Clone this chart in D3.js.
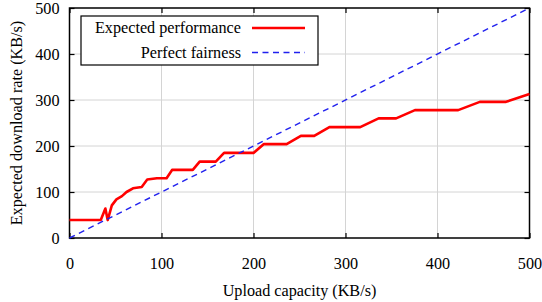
<!DOCTYPE html>
<html lang="en">
<head>
  <meta charset="UTF-8">
  <title>Expected download rate</title>
  <script src="https://d3js.org/d3.v7.min.js"></script>
  <style>
    body { margin: 0; background: #fff; }
    svg { display: block; }
    svg text { font-family: "Liberation Serif", "DejaVu Serif", serif; fill: #000; }
    .grid line { stroke: #d4d4d4; stroke-width: 1; }
  </style>
</head>
<body>
  <script>
    // Expected performance curve (upload KB/s -> expected download KB/s)
    const upload = [0, 34, 39, 41.5, 46, 51, 57, 62, 69, 78.5, 84.5, 95, 105.5, 111.5, 134, 141.5, 159, 168,
      200, 211, 236, 251.5, 266, 282.5, 316, 336, 355, 375.5, 422.5, 446, 474.5, 500];
    const expected = [39, 39, 64, 39, 71, 84, 91, 100, 108, 111, 127, 130, 130, 148, 148, 166, 166, 185,
      185, 204, 204, 222, 222, 241, 241, 260, 260, 278, 278, 296, 296, 313];
    // perfect fairness: download == upload
    const fairX = [0, 500];
    const fairY = [0, 500];
    const xTicks = [0, 100, 200, 300, 400, 500];
    const yTicks = [0, 100, 200, 300, 400, 500];
    const seriesNames = ["Expected performance", "Perfect fairness"];

    const width = 542, height = 302;
    const margin = { top: 8, right: 12.5, bottom: 64, left: 69.5 };
    const fontSize = 16.2;
    const serif = "Liberation Serif, DejaVu Serif, serif";

    const svg = d3.select("body").append("svg")
      .attr("width", width)
      .attr("height", height);

    const x = d3.scaleLinear().domain([0, 500]).range([margin.left, width - margin.right]);
    const y = d3.scaleLinear().domain([0, 500]).range([height - margin.bottom, margin.top]);

    // grid
    const grid = svg.append("g").attr("class", "grid");
    grid.selectAll(".gx")
      .data(xTicks.slice(1, -1))
      .join("line")
      .attr("x1", d => x(d)).attr("x2", d => x(d))
      .attr("y1", y(0)).attr("y2", y(500));
    grid.selectAll(".gy")
      .data(yTicks.slice(1, -1))
      .join("line")
      .attr("x1", x(0)).attr("x2", x(500))
      .attr("y1", d => y(d)).attr("y2", d => y(d));

    // axes, ticks pointing inward on all sides
    const fmt = d3.format("d");
    const axBottom = svg.append("g").attr("transform", `translate(0,${y(0)})`)
      .call(d3.axisBottom(x).tickValues(xTicks).tickFormat(fmt).tickSizeInner(-5).tickSizeOuter(0).tickPadding(19));
    const axLeft = svg.append("g").attr("transform", `translate(${x(0)},0)`)
      .call(d3.axisLeft(y).tickValues(yTicks).tickFormat(fmt).tickSizeInner(-5).tickSizeOuter(0).tickPadding(10));
    const axTop = svg.append("g").attr("transform", `translate(0,${y(500)})`)
      .call(d3.axisTop(x).tickValues(xTicks).tickFormat("").tickSizeInner(-5).tickSizeOuter(0));
    const axRight = svg.append("g").attr("transform", `translate(${x(500)},0)`)
      .call(d3.axisRight(y).tickValues(yTicks).tickFormat("").tickSizeInner(-5).tickSizeOuter(0));

    [axBottom, axLeft, axTop, axRight].forEach(a => {
      a.attr("font-family", serif).attr("font-size", fontSize);
      a.select(".domain").remove();
      a.selectAll(".tick line").attr("stroke", "#000").attr("stroke-width", 1.2);
    });

    // frame
    svg.append("rect")
      .attr("x", x(0)).attr("y", y(500))
      .attr("width", x(500) - x(0)).attr("height", y(0) - y(500))
      .attr("fill", "none").attr("stroke", "#000").attr("stroke-width", 1.5);

    // series
    const redLine = d3.line().x((d, i) => x(upload[i])).y(d => y(d));
    svg.append("path")
      .datum(expected)
      .attr("fill", "none")
      .attr("stroke", "#ff0000")
      .attr("stroke-width", 2.6)
      .attr("stroke-linejoin", "round")
      .attr("d", redLine);

    const blueLine = d3.line().x((d, i) => x(fairX[i])).y(d => y(d));
    svg.append("path")
      .datum(fairY)
      .attr("fill", "none")
      .attr("stroke", "#2020ee")
      .attr("stroke-width", 1.4)
      .attr("stroke-dasharray", "6,4.5")
      .attr("d", blueLine);

    // legend
    const legend = svg.append("g");
    legend.append("rect")
      .attr("x", 81).attr("y", 16)
      .attr("width", 237).attr("height", 49)
      .attr("fill", "#fff").attr("stroke", "#000").attr("stroke-width", 1.2);
    const rows = [
      { name: seriesNames[0], color: "#ff0000", w: 2.6, dash: null, cy: 28 },
      { name: seriesNames[1], color: "#2020ee", w: 1.4, dash: "6,4.5", cy: 52.5 }
    ];
    rows.forEach(r => {
      legend.append("text")
        .attr("x", 241).attr("y", r.cy)
        .attr("dy", "0.33em")
        .attr("text-anchor", "end")
        .attr("font-family", serif)
        .attr("font-size", fontSize)
        .text(r.name);
      legend.append("line")
        .attr("x1", 252).attr("x2", 305)
        .attr("y1", r.cy).attr("y2", r.cy)
        .attr("stroke", r.color)
        .attr("stroke-width", r.w)
        .attr("stroke-dasharray", r.dash);
    });

    // axis titles
    svg.append("text")
      .attr("x", (x(0) + x(500)) / 2)
      .attr("y", 296)
      .attr("text-anchor", "middle")
      .attr("font-family", serif)
      .attr("font-size", fontSize)
      .text("Upload capacity (KB/s)");
    svg.append("text")
      .attr("transform", `translate(22,${(y(0) + y(500)) / 2}) rotate(-90)`)
      .attr("text-anchor", "middle")
      .attr("font-family", serif)
      .attr("font-size", fontSize)
      .text("Expected download rate (KB/s)");
  </script>
</body>
</html>
